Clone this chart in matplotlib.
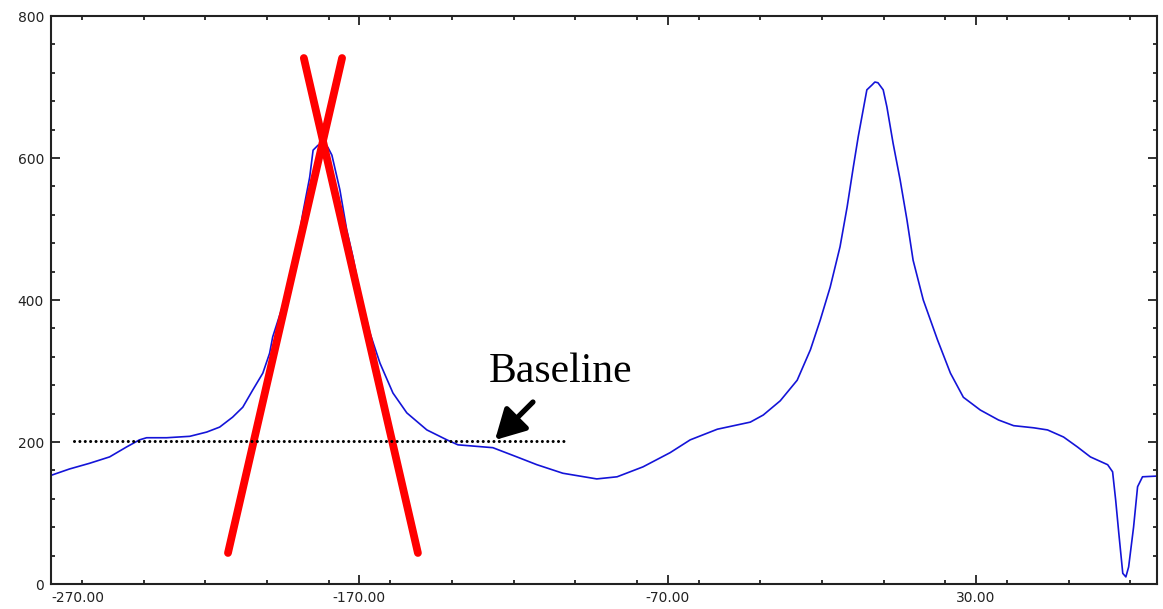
import matplotlib
matplotlib.use("Agg")
import matplotlib.pyplot as plt
from matplotlib.ticker import FixedLocator, MultipleLocator, FuncFormatter

# Spectrum trace (x position, intensity)
spec_x = [-270.0, -264.0, -257.5, -251.0, -245.5, -241.3, -239.0, -232.5, -225.0,
          -219.5, -215.3, -211.1, -207.8, -204.6, -201.3, -199.1, -198.1, -193.5,
          -190.3, -188.3, -186.1, -185.0, -183.4, -181.8, -180.2, -178.9, -176.3,
          -174.1, -172.1, -169.8, -166.6, -163.3, -159.1, -154.6, -148.1, -141.6,
          -138.0, -126.7, -118.9, -112.4, -104.0, -93.0, -86.4, -78.0, -69.2,
          -62.7, -53.9, -43.2, -39.0, -33.5, -28.0, -23.7, -20.5, -17.3, -14.1,
          -11.8, -9.8, -8.2, -5.4, -3.7, -2.8, -1.8, -0.1, 1.1, 3.1, 5.4, 7.6,
          9.6, 12.9, 17.5, 21.7, 25.9, 31.4, 37.3, 42.2, 48.7, 53.2, 58.4, 62.9,
          67.1, 72.7, 74.3, 75.3, 76.3, 77.6, 78.6, 79.5, 81.1, 82.4, 84.0, 88.7]
spec_y = [153, 162, 170, 179, 193, 203, 206, 206, 208,
          214, 221, 235, 249, 273, 297, 325, 348, 410,
          470, 523, 573, 611, 618, 618, 615, 604, 555,
          499, 461, 410, 354, 311, 269, 241, 217, 203,
          196, 192, 179, 168, 156, 148, 151, 165, 185,
          203, 218, 228, 238, 258, 287, 330, 372, 418, 475,
          531, 587, 630, 696, 703, 707, 706, 696, 672, 621, 569, 513,
          456, 400, 344, 297, 263, 245, 231, 223, 220, 217, 207, 193,
          179, 168, 158, 118, 72, 15, 10, 24, 80, 137, 151, 152]

# Tangent lines drawn through the flanks of the first peak
tangent_left_x = [-212.6, -175.6]
tangent_left_y = [43.7, 740.8]
tangent_right_x = [-188.0, -151.0]
tangent_right_y = [740.8, 43.7]

# Baseline level and its extent
baseline_x = [-262.7, -103.3]
baseline_y = [201.5, 201.5]
baseline_label = "Baseline"
arrow_tail = (-113.7, 256.3)
arrow_tip = (-126.0, 202.8)
label_pos = (-128.0, 284.5)

x_major = [-270, -170, -70, 30]
y_major = [0, 200, 400, 600, 800]

fig = plt.figure(figsize=(11.63, 6.09), dpi=100)
ax = fig.add_axes([51 / 1163, 25 / 609, 1106 / 1163, 568 / 609])

ax.plot(spec_x, spec_y, color="#1414d8", lw=1.2, zorder=2)

ax.plot(tangent_left_x, tangent_left_y, color="#ff0000", lw=5.6,
        solid_capstyle="round", zorder=3)
ax.plot(tangent_right_x, tangent_right_y, color="#ff0000", lw=5.6,
        solid_capstyle="round", zorder=3)

ax.plot(baseline_x, baseline_y, color="black", lw=2.2,
        linestyle=(0, (0.01, 1.75)), dash_capstyle="round", zorder=4)

ax.annotate("", xy=arrow_tip, xytext=arrow_tail,
            arrowprops=dict(arrowstyle="-|>,head_length=1.0,head_width=0.55",
                            color="black", lw=3.8, mutation_scale=18,
                            shrinkA=0, shrinkB=0, capstyle="round"), zorder=5)
ax.text(label_pos[0], label_pos[1], baseline_label, family="Liberation Serif",
        fontsize=30, ha="left", va="baseline", color="black")

ax.set_xlim(-270, 88.7)
ax.set_ylim(0, 800)

ax.xaxis.set_major_locator(FixedLocator(x_major))
ax.xaxis.set_minor_locator(MultipleLocator(20))
ax.yaxis.set_major_locator(FixedLocator(y_major))
ax.yaxis.set_minor_locator(MultipleLocator(40))
ax.xaxis.set_major_formatter(FuncFormatter(lambda v, p: f"{v:.2f}"))
ax.yaxis.set_major_formatter(FuncFormatter(lambda v, p: f"{v:.0f}"))

ax.tick_params(which="both", direction="in", top=True, right=True,
               width=1.3, color="#222222", labelsize=10,
               labelcolor="#222222")
ax.tick_params(which="major", length=6.5, pad=5)
ax.tick_params(which="minor", length=2.6)

for s in ax.spines.values():
    s.set_linewidth(1.5)
    s.set_color("#222222")

fig.canvas.draw()
labels = ax.get_xticklabels()
labels[0].set_horizontalalignment("left")

fig.savefig("out.png", dpi=100, facecolor="white")
